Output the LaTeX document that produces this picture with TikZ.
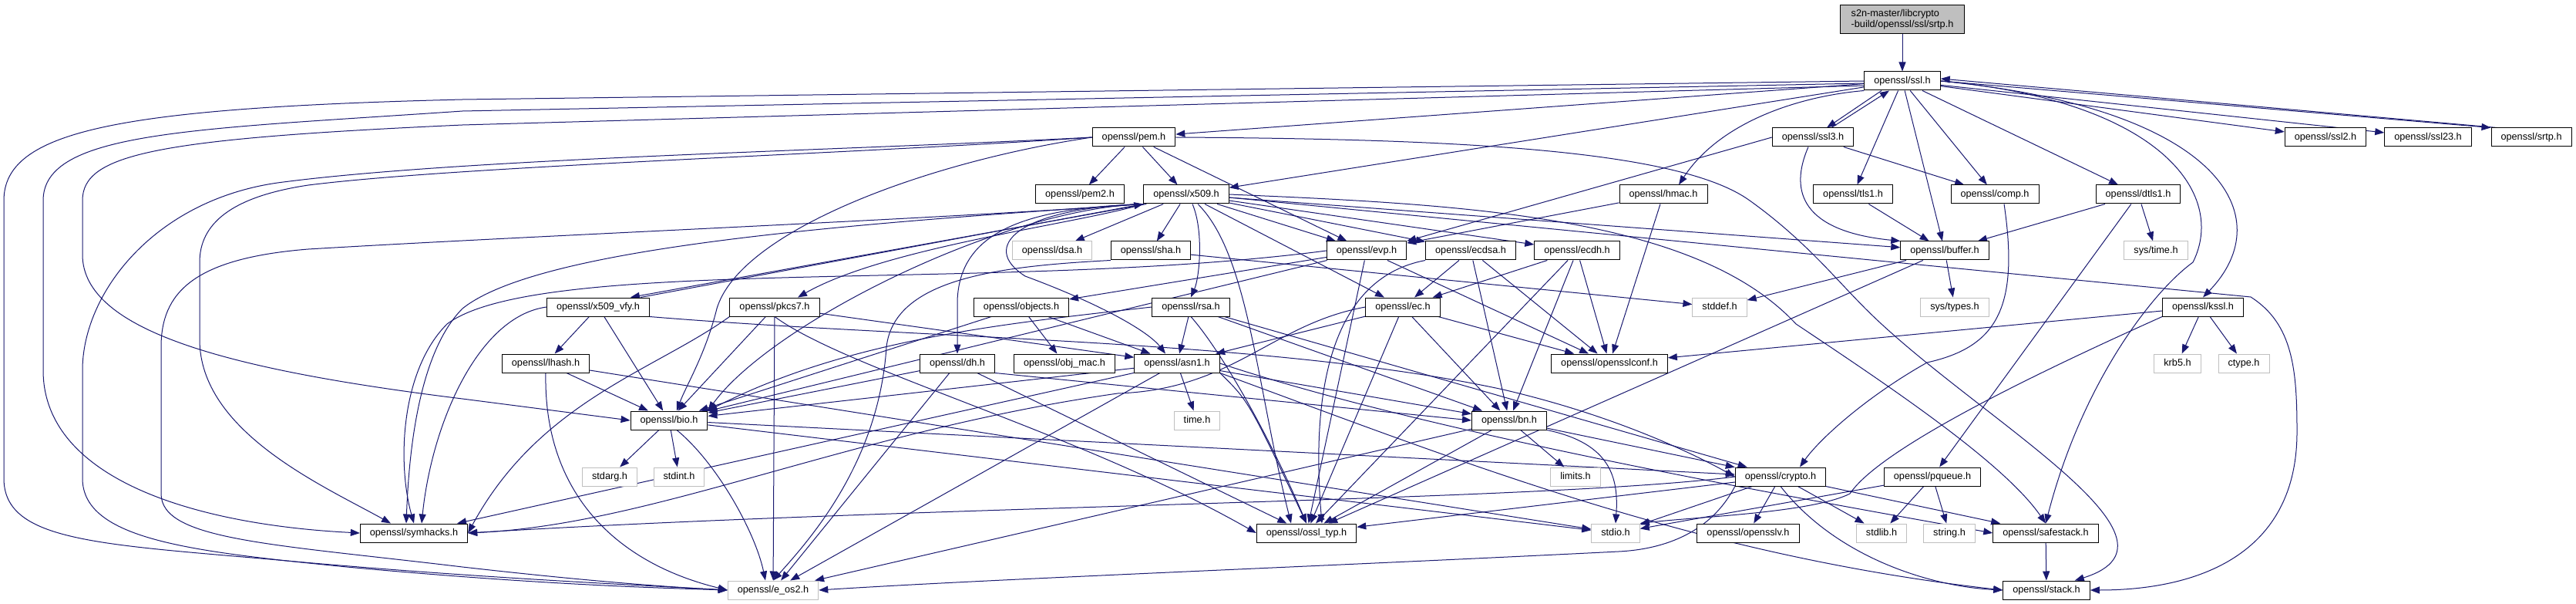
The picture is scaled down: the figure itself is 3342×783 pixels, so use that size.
\documentclass[tikz,border=0pt]{standalone}
\usepackage{fontspec}
\setmainfont{Liberation Sans}
\usepackage{xcolor}
\usepackage{tikz}
\usetikzlibrary{arrows.meta, backgrounds}

\definecolor{edgeblue}{HTML}{191970}
\definecolor{missgray}{HTML}{BFBFBF}
\newcommand{\dxfont}{\fontsize{12.7}{13.6}\selectfont}

\tikzset{
  hdr/.style={draw=black, line width=1pt, fill=white, font=\dxfont,
    inner xsep=12.5pt, inner ysep=0pt, minimum height=24pt,
    text height=9.3pt, text depth=2.6pt},
  syshdr/.style={hdr, draw=missgray},
  rootbox/.style={draw=black, line width=1pt, fill=missgray, font=\dxfont,
    align=left, inner xsep=12pt, inner ysep=3pt,
    minimum width=161pt, minimum height=37pt},
  dep/.style={->, draw=edgeblue, line width=1pt},
}

\begin{document}
\begin{tikzpicture}[x=1pt, y=-1pt, >={Triangle[length=12pt,width=9pt]}]

    % =================================================================
    % 1. FRAME (pixel grid of the reference, y grows downwards)
    % =================================================================
    \useasboundingbox (0,0) rectangle (3342,783);

    % =================================================================
    % 2. HEADER NODES, ROW BY ROW
    % =================================================================
    \node[rootbox] (root) at (2468,25) {s2n-master/libcrypto\\-build/openssl/ssl/srtp.h};
    \node[hdr] (ssl) at (2468,105) {openssl/ssl.h};

    \node[hdr] (pem)   at (1471,178) {openssl/pem.h};
    \node[hdr] (ssl3)  at (2352,178) {openssl/ssl3.h};
    \node[hdr] (ssl2)  at (3017,178) {openssl/ssl2.h};
    \node[hdr] (ssl23) at (3150,178) {openssl/ssl23.h};
    \node[hdr] (srtp)  at (3284,178) {openssl/srtp.h};

    \node[hdr] (pem2)  at (1401,252) {openssl/pem2.h};
    \node[hdr] (x509)  at (1539,252) {openssl/x509.h};
    \node[hdr] (hmac)  at (2158,252) {openssl/hmac.h};
    \node[hdr] (tls1)  at (2404,252) {openssl/tls1.h};
    \node[hdr] (comp)  at (2588,252) {openssl/comp.h};
    \node[hdr] (dtls1) at (2774,252) {openssl/dtls1.h};

    \node[syshdr] (dsa) at (1365,325) {openssl/dsa.h};
    \node[hdr] (sha)    at (1493,325) {openssl/sha.h};
    \node[hdr] (evp)    at (1773,325) {openssl/evp.h};
    \node[hdr] (ecdsa)  at (1908,325) {openssl/ecdsa.h};
    \node[hdr] (ecdh)   at (2046,325) {openssl/ecdh.h};
    \node[hdr] (buffer) at (2523,325) {openssl/buffer.h};
    \node[syshdr] (systime) at (2797,325) {sys/time.h};

    \node[hdr] (x509vfy) at (776,398)  {openssl/x509\_vfy.h};
    \node[hdr] (pkcs7)   at (1005,398) {openssl/pkcs7.h};
    \node[hdr] (objects) at (1325,398) {openssl/objects.h};
    \node[hdr] (rsa)     at (1545,398) {openssl/rsa.h};
    \node[hdr] (ec)      at (1820,398) {openssl/ec.h};
    \node[syshdr] (stddef)   at (2231,398) {stddef.h};
    \node[syshdr] (systypes) at (2536,398) {sys/types.h};
    \node[hdr] (kssl)    at (2858,398) {openssl/kssl.h};

    \node[hdr] (lhash)   at (708,471)  {openssl/lhash.h};
    \node[hdr] (dh)      at (1242,471) {openssl/dh.h};
    \node[hdr] (objmac)  at (1381,471) {openssl/obj\_mac.h};
    \node[hdr] (asn1)    at (1527,471) {openssl/asn1.h};
    \node[hdr] (sslconf) at (2088,471) {openssl/opensslconf.h};
    \node[syshdr] (krb5)  at (2825,471) {krb5.h};
    \node[syshdr] (ctype) at (2911,471) {ctype.h};

    \node[hdr] (bio)      at (868,545)  {openssl/bio.h};
    \node[syshdr] (timeh) at (1553,545) {time.h};
    \node[hdr] (bn)       at (1958,545) {openssl/bn.h};

    \node[syshdr] (stdarg) at (791,618)  {stdarg.h};
    \node[syshdr] (stdint) at (881,618)  {stdint.h};
    \node[syshdr] (limits) at (2044,618) {limits.h};
    \node[hdr] (crypto)    at (2310,618) {openssl/crypto.h};
    \node[hdr] (pqueue)    at (2507,618) {openssl/pqueue.h};

    \node[hdr] (symhacks)  at (537,691)  {openssl/symhacks.h};
    \node[hdr] (ossltyp)   at (1695,691) {openssl/ossl\_typ.h};
    \node[syshdr] (stdio)  at (2096,691) {stdio.h};
    \node[hdr] (sslv)      at (2268,691) {openssl/opensslv.h};
    \node[syshdr] (stdlib) at (2441,691) {stdlib.h};
    \node[syshdr] (string) at (2529,691) {string.h};
    \node[hdr] (safestack) at (2654,691) {openssl/safestack.h};

    \node[syshdr] (eos2) at (1003,765) {openssl/e\_os2.h};
    \node[hdr] (stack)   at (2655,765) {openssl/stack.h};

    % =================================================================
    % 3. INCLUDE EDGES (behind the boxes)
    % =================================================================
    \begin{scope}[on background layer]
    \fill[white] (0,0) rectangle (3342,783);
    \end{scope}

    \begin{scope}[on background layer]
    % srtp.h -> ssl.h and what ssl.h pulls in
    \draw[dep] (root) -- (ssl);
    \foreach \tgt in {tls1,comp,buffer,dtls1,ssl2,ssl23,pem,x509}
        \draw[dep] (ssl) -- (\tgt);
    \draw[dep] ([xshift=-27pt]ssl.south) -- ([xshift=18pt]ssl3.north);
    \draw[dep] ([xshift=24pt]ssl3.north) -- ([xshift=-17pt]ssl.south);
    \draw[dep] (ssl.east) -- (srtp.north west);
    \draw[dep] ([xshift=8pt]srtp.north west) -- ([yshift=3pt]ssl.east);
    \draw[dep] (ssl.south west) .. controls (2330,125) and (2230,160) .. ([xshift=20pt]hmac.north);
    \draw[dep] (ssl.east) .. controls (2880,140) and (2960,280) .. (kssl.north);
    \draw[dep] (ssl.east) .. controls (2800,130) and (2890,250) .. (2845,340)
        .. controls (2790,380) and (2700,500) .. (safestack.north);

    % long loops round the left side
    \draw[dep] (ssl.west) -- (600,129) .. controls (150,140) and (5,170) .. (5,260) -- (5,620)
        .. controls (5,700) and (120,705) .. (350,725) .. controls (600,748) and (800,757) .. (eos2.west);
    \draw[dep] ([yshift=-3pt]ssl.west) -- (600,144) .. controls (250,168) and (56,170) .. (56,260) -- (56,480)
        .. controls (56,620) and (250,680) .. (symhacks.west);
    \draw[dep] ([yshift=-6pt]ssl.west) -- (600,162) .. controls (200,180) and (107,200) .. (107,260) -- (107,330)
        .. controls (107,430) and (300,480) .. (600,517) -- (bio.west);

    % ssl3.h, tls1.h, dtls1.h, comp.h
    \draw[dep] (ssl3) -- (comp);
    \draw[dep] (ssl3.west) -- (evp.north east);
    \draw[dep] ([xshift=-6pt]ssl3.south) .. controls (2320,250) and (2340,300) .. (buffer.north west);
    \draw[dep] (tls1) -- (buffer);
    \foreach \tgt in {buffer,pqueue,systime}
        \draw[dep] (dtls1) -- (\tgt);
    \draw[dep] ([xshift=12pt]comp.south) .. controls (2620,400) and (2590,450) .. (2500,470)
        .. controls (2420,515) and (2360,570) .. ([xshift=25pt]crypto.north);

    % hmac.h, kssl.h, buffer.h
    \draw[dep] (hmac) -- (sslconf);
    \draw[dep] (hmac) -- (evp);
    \foreach \tgt in {sslconf,krb5,ctype}
        \draw[dep] (kssl) -- (\tgt);
    \draw[dep] (kssl.south west) .. controls (2650,480) and (2440,580) .. (2400,640)
        .. controls (2350,665) and (2200,670) .. (stdio.north east);
    \foreach \tgt in {stddef,systypes,ossltyp}
        \draw[dep] (buffer) -- (\tgt);

    % pem.h
    \foreach \tgt in {pem2,x509,evp}
        \draw[dep] (pem) -- (\tgt);
    \draw[dep] (pem.west) .. controls (1200,210) and (960,300) .. (930,400)
        .. controls (915,460) and (890,500) .. ([xshift=10pt]bio.north);
    \draw[dep] (pem.east) .. controls (1900,180) and (2180,195) .. (2270,260)
        .. controls (2340,310) and (2380,360) .. (2420,400)
        .. controls (2560,540) and (2860,700) .. ([xshift=-20pt]stack.north east);
    \draw[dep] (pem.west) .. controls (1100,195) and (600,205) .. (360,237)
        .. controls (200,260) and (107,380) .. (107,480) -- (107,620)
        .. controls (107,700) and (250,715) .. (450,735) .. controls (700,758) and (850,762) .. (eos2.west);
    \draw[dep] (pem.west) .. controls (1100,200) and (600,215) .. (400,240)
        .. controls (300,255) and (259,290) .. (259,340) -- (259,440)
        .. controls (259,560) and (420,630) .. ([xshift=-30pt]symhacks.north);

    % x509.h
    \foreach \tgt in {buffer,evp,ec,ecdsa,ecdh,dsa,sha}
        \draw[dep] (x509) -- (\tgt);
    \draw[dep] ([xshift=8pt]x509.south) .. controls (1562,300) and (1556,360) .. (rsa.north);
    \draw[dep] ([xshift=15pt]x509.south) .. controls (1620,330) and (1630,500) .. ([xshift=-20pt]ossltyp.north);
    \draw[dep] (x509.south west) .. controls (1320,270) and (1270,320) .. (1330,358)
        .. controls (1430,395) and (1490,430) .. ([xshift=-15pt]asn1.north);
    \draw[dep] (x509.south west) .. controls (1330,270) and (1245,300) .. (1242,390) -- (dh.north);
    \draw[dep] (x509.south west) .. controls (1300,270) and (1000,420) .. (bio.north east);
    \draw[dep] (x509.south west) .. controls (1400,290) and (1150,320) .. ([xshift=30pt]pkcs7.north);
    \draw[dep] ([xshift=4pt]x509.south west) -- ([xshift=-25pt]x509vfy.north east);
    \draw[dep] ([xshift=-12pt]x509vfy.north east) -- (x509.south west);
    \draw[dep] (x509.south west) .. controls (1100,290) and (700,320) .. (600,400)
        .. controls (540,460) and (530,600) .. ([xshift=-10pt]symhacks.north);
    \draw[dep] (x509.south west) .. controls (1200,285) and (700,305) .. (400,323)
        .. controls (250,335) and (209,380) .. (209,450) -- (209,640)
        .. controls (209,700) and (350,705) .. (600,735) .. controls (750,752) and (850,760) .. (eos2.west);
    \draw[dep] (x509.east) .. controls (1900,265) and (2200,280) .. (2330,420)
        .. controls (2450,500) and (2600,600) .. (safestack.north);
    \draw[dep] ([yshift=-4pt]x509.east) -- (2920,385) .. controls (2975,420) and (2980,480) .. (2980,560)
        .. controls (2980,720) and (2850,765) .. (stack.east);

    % evp.h
    \foreach \tgt in {sslconf,ossltyp,bio,objects}
        \draw[dep] (evp) -- (\tgt);
    \draw[dep] (evp.west) .. controls (1300,380) and (700,330) .. (580,420)
        .. controls (520,480) and (515,600) .. (symhacks.north);

    % ecdsa.h, ecdh.h, ec.h
    \foreach \tgt in {sslconf,ec,bn}
        \draw[dep] (ecdsa) -- (\tgt);
    \draw[dep] (ecdsa.south west) .. controls (1730,360) and (1700,500) .. ([xshift=20pt]ossltyp.north);
    \foreach \tgt in {sslconf,ec,bn,ossltyp}
        \draw[dep] (ecdh) -- (\tgt);
    \foreach \tgt in {sslconf,asn1,ossltyp,bn}
        \draw[dep] (ec) -- (\tgt);
    \draw[dep] (ec.west) .. controls (1650,420) and (1600,505) .. (1450,510)
        .. controls (1100,560) and (850,680) .. (symhacks.east);

    % sha.h, rsa.h
    \draw[dep] (sha) -- (stddef);
    \draw[dep] (sha.south west) .. controls (1300,345) and (1160,360) .. (1150,450)
        .. controls (1140,600) and (1050,700) .. (eos2.north);
    \foreach \tgt in {asn1,bn,crypto}
        \draw[dep] (rsa) -- (\tgt);
    \draw[dep] (rsa.south) .. controls (1580,450) and (1640,550) .. (ossltyp.north);
    \draw[dep] (rsa.west) .. controls (1300,420) and (1100,440) .. (bio.north east);

    % dh.h, objects.h
    \foreach \tgt in {eos2,bio,ossltyp}
        \draw[dep] (dh) -- (\tgt);
    \draw[dep] (dh.south east) -- (bn.west);
    \foreach \tgt in {objmac,bio,asn1}
        \draw[dep] (objects) -- (\tgt);

    % asn1.h
    \foreach \tgt in {timeh,eos2,bio,bn,symhacks}
        \draw[dep] (asn1) -- (\tgt);
    \draw[dep] (asn1.south east) .. controls (1620,520) .. (ossltyp.north);
    \draw[dep] (asn1.east) .. controls (1850,560) and (2300,640) .. (safestack.west);
    \draw[dep] (asn1.south east) .. controls (1900,600) and (2200,720) .. (stack.west);

    % bn.h, bio.h
    \foreach \tgt in {eos2,ossltyp,crypto,limits}
        \draw[dep] (bn) -- (\tgt);
    \draw[dep] (bn.south east) .. controls (2090,575) and (2100,620) .. (stdio.north);
    \foreach \tgt in {stdarg,stdint,stdio,crypto}
        \draw[dep] (bio) -- (\tgt);
    \draw[dep] ([xshift=10pt]bio.south) .. controls (930,600) and (980,690) .. ([xshift=-10pt]eos2.north);

    % crypto.h, safestack.h
    \foreach \tgt in {stdlib,stdio,sslv,ossltyp,safestack}
        \draw[dep] (crypto) -- (\tgt);
    \draw[dep] (crypto.south) .. controls (2380,720) and (2500,760) .. (stack.west);
    \draw[dep] (crypto.south west) .. controls (2220,690) and (2160,712) .. (2100,715)
        .. controls (1700,735) and (1300,750) .. (eos2.east);
    \draw[dep] (crypto.west) .. controls (2000,650) and (1200,655) .. (symhacks.east);
    \draw[dep] (safestack) -- (stack);

    % x509_vfy.h, pkcs7.h, lhash.h, pqueue.h
    \foreach \tgt in {lhash,bio}
        \draw[dep] (x509vfy) -- (\tgt);
    \draw[dep] (x509vfy.south east) .. controls (1200,440) and (1650,440) .. (1950,505)
        .. controls (2100,540) and (2200,590) .. (crypto.west);
    \draw[dep] (x509vfy.west) .. controls (620,410) and (560,550) .. ([xshift=10pt]symhacks.north);
    \foreach \tgt in {asn1,bio,eos2}
        \draw[dep] (pkcs7) -- (\tgt);
    \draw[dep] (pkcs7.south west) .. controls (850,480) and (700,520) .. (symhacks.east);
    \draw[dep] (pkcs7.south) .. controls (1100,480) and (1400,560) .. (ossltyp.west);
    \foreach \tgt in {bio,stdio}
        \draw[dep] (lhash) -- (\tgt);
    \draw[dep] (lhash.south) .. controls (705,640) and (800,730) .. (eos2.west);
    \foreach \tgt in {stdio,stdlib,string}
        \draw[dep] (pqueue) -- (\tgt);
    \end{scope}

\end{tikzpicture}
\end{document}
